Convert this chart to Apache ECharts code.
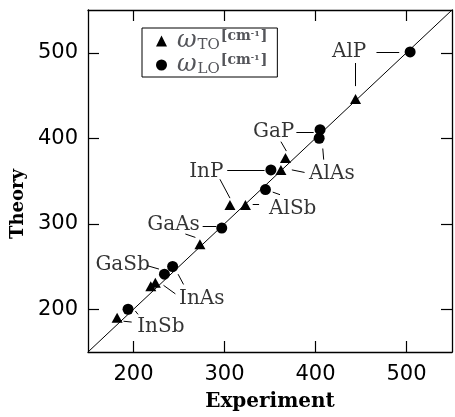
<!DOCTYPE html>
<html>
<head>
<meta charset="utf-8">
<script src="https://cdn.jsdelivr.net/npm/echarts@6/dist/echarts.min.js"></script>
<style>
	html, body { margin: 0; padding: 0; background: #fff; }
	#chart { width: 455px; height: 417px; }
</style>
</head>
<body>
<div id="chart"></div>
<script>
	/*---------- 数据 ----------*/
	var materials = ['InSb', 'InAs', 'GaSb', 'GaAs', 'InP', 'AlSb', 'GaP', 'AlAs', 'AlP'];
	var toExp = [182, 219, 224, 273, 306, 323, 367, 362, 444];
	var toTheory = [190, 227, 231, 276, 322, 322, 377, 363, 446];
	var loExp = [194, 243, 234, 297, 351, 345, 405, 404, 504];
	var loTheory = [200, 250, 241, 295, 363, 340, 410, 400, 501];
	var tickValues = [200, 300, 400, 500];
	var diagonal = [[150, 150], [550, 550]];
	// label anchors and leader lines (data units)
	var labelAt = [[230, 179], [275, 212], [188, 252], [244, 299], [280, 361], [375, 317], [354, 407], [418, 358], [437, 501]];
	var leaders = [
		[[189, 186], [198, 185]], [[202, 198], [205, 194]],
		[[233, 228], [246, 218]], [[249, 241], [255, 229]],
		[[215, 251], [228, 247]],
		[[276, 297], [291, 297]], [[257, 288], [268, 284]],
		[[303, 362], [344, 362]], [[295, 352], [306, 330]],
		[[331, 323], [338, 323]], [[353, 337], [361, 334]],
		[[379, 407], [398, 407]], [[362, 396], [368, 385]],
		[[374, 363], [388, 360]], [[408, 388], [409, 375]],
		[[467, 501], [492, 501]], [[444, 488], [444, 461]]
	];
	/*-------------------------*/

	function pairs(xs, ys) {
		var out = [];
		for (var i = 0; i < xs.length; i++) {
			out.push([xs[i], ys[i]]);
		}
		return out;
	}

	var labelData = [];
	for (var i = 0; i < materials.length; i++) {
		labelData.push({ name: materials[i], value: labelAt[i] });
	}
	var leaderData = [];
	for (var j = 0; j < leaders.length; j++) {
		leaderData.push({ coords: leaders[j] });
	}

	var serif = 'DejaVu Serif';
	var axisCommon = {
		type: 'value',
		min: 150,
		max: 550,
		axisLine: { show: true, lineStyle: { color: '#000', width: 1.3 } },
		axisTick: { show: true, inside: true, length: 11, customValues: tickValues, lineStyle: { color: '#000', width: 1.2 } },
		splitLine: { show: false }
	};
	function axis(extra) {
		return Object.assign({}, axisCommon, extra);
	}

	var myChart = echarts.init(document.getElementById('chart'), null, { renderer: 'canvas' });
	myChart.setOption({
		animation: false,
		backgroundColor: '#fff',
		grid: { left: 88, top: 10, right: 3, bottom: 64 },
		legend: {
			orient: 'vertical',
			left: 142,
			top: 28,
			padding: [1, 10, 0, 14],
			itemGap: 0,
			itemWidth: 11,
			itemHeight: 11,
			borderColor: '#000',
			borderWidth: 1,
			backgroundColor: '#fff',
			data: ['TO', 'LO'],
			formatter: function(name) {
				return '{w|ω}{sub|' + name + '}{u|[cm}{sup|-1}{u|]}';
			},
			textStyle: {
				rich: {
					w: { fontFamily: serif, fontSize: 24, fontStyle: 'italic', padding: [0, 0, 0, 5], lineHeight: 23 },
					sub: { fontFamily: serif, fontSize: 15, verticalAlign: 'bottom', padding: [7, 0, 0, 1] },
					u: { fontFamily: serif, fontSize: 14, fontWeight: 'bold', verticalAlign: 'top', padding: [0, 0, 5, 1] },
					sup: { fontFamily: serif, fontSize: 8, fontWeight: 'bold', verticalAlign: 'top', padding: [0, 0, 12, 0] }
				}
			}
		},
		xAxis: [
			axis({
				position: 'bottom',
				name: 'Experiment',
				nameLocation: 'middle',
				nameGap: 40,
				nameTextStyle: { fontFamily: serif, fontSize: 20, fontWeight: 'bold', color: '#000' },
				axisLabel: { show: true, margin: 12, customValues: tickValues, fontFamily: 'DejaVu Sans', fontSize: 21, color: '#000' }
			}),
			axis({ position: 'top', axisLabel: { show: false } })
		],
		yAxis: [
			axis({
				position: 'left',
				name: 'Theory',
				nameLocation: 'middle',
				nameGap: 56,
				nameRotate: 90,
				nameTextStyle: { fontFamily: serif, fontSize: 18, fontWeight: 'bold', color: '#000', padding: [0, 46, 0, 0] },
				axisLabel: { show: true, margin: 10, customValues: tickValues, fontFamily: 'DejaVu Sans', fontSize: 21, color: '#000' }
			}),
			axis({ position: 'right', axisLabel: { show: false } })
		],
		series: [
			{
				name: 'diagonal',
				type: 'line',
				data: diagonal,
				symbol: 'none',
				silent: true,
				lineStyle: { color: '#000', width: 1 },
				z: 1
			},
			{
				name: 'TO',
				type: 'scatter',
				data: pairs(toExp, toTheory),
				symbol: 'triangle',
				symbolSize: [11, 10],
				itemStyle: { color: '#000', opacity: 1 },
				z: 3
			},
			{
				name: 'LO',
				type: 'scatter',
				data: pairs(loExp, loTheory),
				symbol: 'circle',
				symbolSize: 11,
				itemStyle: { color: '#000', opacity: 1 },
				z: 3
			},
			{
				name: 'leaders',
				type: 'lines',
				coordinateSystem: 'cartesian2d',
				data: leaderData,
				silent: true,
				lineStyle: { color: '#000', width: 1, opacity: 1 },
				z: 2
			},
			{
				name: 'labels',
				type: 'scatter',
				data: labelData,
				symbolSize: 0,
				silent: true,
				label: {
					show: true,
					position: 'inside',
					formatter: '{b}',
					fontFamily: serif,
					fontSize: 20,
					color: '#000'
				},
				z: 4
			}
		]
	});
</script>
</body>
</html>
